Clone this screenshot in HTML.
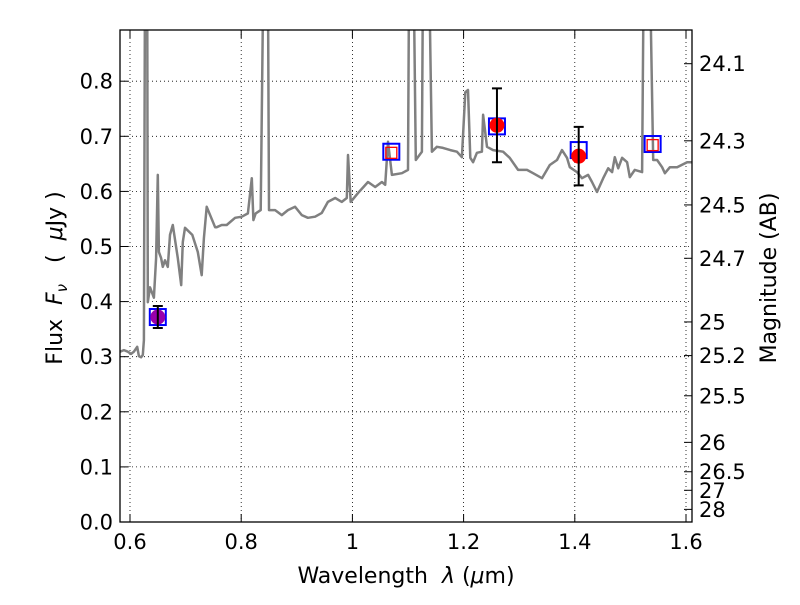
<!DOCTYPE html>
<html><head><meta charset="utf-8"><style>
body{margin:0;background:#fff}
svg{font-family:"DejaVu Sans","Liberation Sans",sans-serif}
</style></head><body>
<svg id="c" width="800" height="600" xmlns="http://www.w3.org/2000/svg">
<rect width="800" height="600" fill="#fff"/>
<defs><clipPath id="clip"><rect x="120" y="30" width="572" height="492"/></clipPath></defs>
<g id="grid"></g>
<g id="spec" clip-path="url(#clip)"></g>
<g id="pts"></g>
<rect x="120" y="30" width="572" height="492" fill="none" stroke="#000" stroke-width="1.3"/>
<g id="axes"></g>
<text x="406" y="583" font-size="22" text-anchor="middle" xml:space="preserve">Wavelength  <tspan font-style="italic">λ</tspan> (<tspan font-style="italic">μ</tspan>m)</text>
<text transform="translate(62,278) rotate(-90)" font-size="22" text-anchor="middle" xml:space="preserve">Flux  <tspan font-style="italic">F</tspan><tspan font-style="italic" font-size="15" dy="5">ν</tspan><tspan dy="-5">   (  </tspan><tspan font-style="italic">μ</tspan>Jy )</text>
<text transform="translate(776,278) rotate(-90)" font-size="22" text-anchor="middle">Magnitude (AB)</text>
</svg>
<script>
const specLam=[0.582,0.589,0.596,0.602,0.607,0.613,0.616,0.620,0.623,0.625,0.627,0.631,0.632,0.636,0.643,0.647,0.650,0.652,0.656,0.659,0.663,0.668,0.672,0.677,0.686,0.692,0.695,0.699,0.712,0.722,0.729,0.733,0.738,0.753,0.756,0.765,0.774,0.789,0.801,0.812,0.819,0.822,0.826,0.835,0.840,0.848,0.850,0.861,0.873,0.884,0.897,0.909,0.920,0.933,0.945,0.956,0.969,0.981,0.990,0.992,0.997,1.010,1.028,1.041,1.053,1.059,1.064,1.071,1.089,1.100,1.102,1.110,1.114,1.125,1.127,1.138,1.143,1.152,1.163,1.176,1.188,1.197,1.203,1.208,1.212,1.217,1.224,1.233,1.235,1.242,1.253,1.271,1.283,1.298,1.314,1.325,1.341,1.355,1.368,1.377,1.386,1.391,1.404,1.413,1.424,1.431,1.440,1.451,1.460,1.467,1.472,1.478,1.485,1.494,1.499,1.508,1.521,1.524,1.535,1.541,1.548,1.557,1.562,1.571,1.584,1.602,1.611];
const specFlux=[0.309,0.312,0.309,0.305,0.309,0.318,0.301,0.299,0.303,0.330,1.0,1.0,0.399,0.426,0.407,0.479,0.630,0.490,0.479,0.463,0.475,0.463,0.521,0.539,0.479,0.430,0.508,0.534,0.521,0.490,0.448,0.515,0.572,0.535,0.535,0.539,0.539,0.552,0.554,0.560,0.624,0.548,0.560,0.566,1.0,1.0,0.566,0.566,0.557,0.566,0.572,0.557,0.552,0.554,0.561,0.581,0.588,0.581,0.588,0.666,0.581,0.597,0.617,0.608,0.617,0.612,0.690,0.630,0.633,0.639,1.0,1.0,0.657,0.672,1.0,1.0,0.672,0.681,0.679,0.675,0.672,0.662,0.780,0.784,0.661,0.653,0.670,0.672,0.739,0.681,0.675,0.672,0.661,0.639,0.639,0.633,0.624,0.648,0.657,0.675,0.661,0.644,0.635,0.624,0.630,0.617,0.599,0.624,0.642,0.635,0.662,0.642,0.661,0.653,0.626,0.639,0.635,1.0,1.0,0.657,0.657,0.644,0.633,0.644,0.644,0.653,0.653];
const modelLam=[0.650,1.070,1.260,1.407,1.540];
const modelFlux=[0.372,0.672,0.718,0.675,0.686];
const innerLam=[1.070,1.540];
const innerFlux=[0.670,0.684];
const obsLam=[0.650,1.260,1.407];
const obsFlux=[0.372,0.720,0.664];
const obsErr=[0.020,0.067,0.053];
const obsColor=['#9900aa','#ff0000','#ff0000'];
const xTicks=[0.6,0.8,1.0,1.2,1.4,1.6];
const xLabels=['0.6','0.8','1','1.2','1.4','1.6'];
const yTicks=[0,0.1,0.2,0.3,0.4,0.5,0.6,0.7,0.8];
const magTicks=[24.1,24.3,24.5,24.7,25,25.2,25.5,26,26.5,27,28];

const NS='http://www.w3.org/2000/svg';
const X=l=>130+(l-0.6)*556;
const Y=f=>522-f*551;
function mk(tag,attrs,parent,txt){const e=document.createElementNS(NS,tag);for(const k in attrs)e.setAttribute(k,attrs[k]);if(txt!==undefined)e.textContent=txt;parent.appendChild(e);return e;}
const grid=document.getElementById('grid'),axes=document.getElementById('axes'),spec=document.getElementById('spec'),pts=document.getElementById('pts');
xTicks.forEach((t,i)=>{
  const g=mk('line',{x1:X(t),x2:X(t),y1:30,y2:522,stroke:'#000','stroke-width':0.8,'stroke-dasharray':'1,3'},grid);
  
  
  mk('line',{x1:X(t),x2:X(t),y1:522,y2:514,stroke:'#000'},axes);
  mk('line',{x1:X(t),x2:X(t),y1:30,y2:38,stroke:'#000'},axes);
  const tx=mk('text',{x:X(t),y:549,'font-size':21,'text-anchor':'middle'},axes,xLabels[i]);
  
  
});
yTicks.forEach(t=>{
  const g=mk('line',{x1:120,x2:692,y1:Y(t),y2:Y(t),stroke:'#000','stroke-width':0.8,'stroke-dasharray':'1,3'},grid);
  
  
  mk('line',{x1:120,x2:128,y1:Y(t),y2:Y(t),stroke:'#000'},axes);
  const tx=mk('text',{x:113,y:Y(t)+7.5,'font-size':21,'text-anchor':'end'},axes,t.toFixed(1));
  
  
});
magTicks.forEach(m=>{
  const y=Y(Math.pow(10,(23.9-m)/2.5));
  mk('line',{x1:684,x2:692,y1:y,y2:y,stroke:'#000'},axes);
  const tx=mk('text',{x:699,y:y+7.5,'font-size':21},axes,String(m));
  
  
});
const d=specLam.map((l,i)=>(i?'L':'M')+X(l).toFixed(1)+','+Y(specFlux[i]).toFixed(1)).join('');
const p=mk('path',{d:d,fill:'none',stroke:'#808080','stroke-width':2.5,'stroke-linejoin':'round'},spec);


modelLam.forEach((l,i)=>{
  const r=mk('rect',{x:X(l)-8,y:Y(modelFlux[i])-8,width:16,height:16,fill:'none',stroke:'#0000ff','stroke-width':2},pts);
  
  
});
obsLam.forEach((l,i)=>{
  const c=mk('circle',{cx:X(l),cy:Y(obsFlux[i]),r:7.5,fill:obsColor[i]},pts);
  
  
  const x=X(l),y1=Y(obsFlux[i]-obsErr[i]),y2=Y(obsFlux[i]+obsErr[i]);
  const e=mk('path',{d:`M${x},${y1}L${x},${y2}M${x-5},${y1}L${x+5},${y1}M${x-5},${y2}L${x+5},${y2}`,stroke:'#000','stroke-width':2,fill:'none'},pts);
  
  
});
innerLam.forEach((l,i)=>{
  const r=mk('rect',{x:X(l)-5.5,y:Y(innerFlux[i])-5.5,width:11,height:11,fill:'none',stroke:'#ff0000','stroke-width':1.3},pts);
  
  
});
</script>
</body></html>
